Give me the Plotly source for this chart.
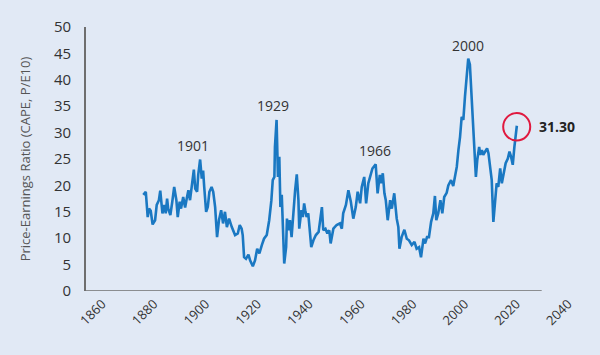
import plotly.graph_objects as go

# Shiller CAPE (P/E10)
years = [1881.0, 1881.9, 1882.6, 1883.1, 1883.7, 1884.4, 1885.3, 1885.9, 1886.7, 1887.2,
         1888.0, 1888.7, 1889.2, 1889.7, 1890.1, 1890.9, 1891.6, 1892.3, 1893.1, 1893.6,
         1894.3, 1894.8, 1895.6, 1896.3, 1896.9, 1897.5, 1898.1, 1898.7, 1899.5, 1900.0,
         1900.7, 1901.1, 1901.8, 1902.4, 1902.9, 1903.3, 1904.0, 1904.6, 1905.2, 1906.0,
         1906.6, 1907.3, 1908.0, 1908.7, 1909.5, 1910.2, 1910.9, 1911.6, 1912.4, 1913.4,
         1914.6, 1915.6, 1916.3, 1917.0, 1917.4, 1917.9, 1918.6, 1919.5, 1920.1, 1921.1,
         1921.9, 1922.7, 1923.5, 1924.4, 1925.2, 1926.2, 1927.1, 1927.9, 1928.4, 1929.0,
         1929.2, 1929.8, 1930.3, 1930.8, 1931.2, 1931.7, 1932.3, 1932.6, 1933.3, 1933.6,
         1934.2, 1934.7, 1935.3, 1935.9, 1936.6, 1937.2, 1937.8, 1938.1, 1938.9, 1939.4,
         1939.9, 1940.3, 1940.8, 1941.4, 1941.8, 1942.5, 1943.3, 1944.2, 1945.2, 1946.0,
         1946.4, 1946.9, 1947.7, 1948.4, 1949.1, 1949.6, 1950.6, 1951.8, 1953.0, 1953.7,
         1954.2, 1955.2, 1956.1, 1957.0, 1957.9, 1958.8, 1959.5, 1960.4, 1961.0, 1961.9,
         1962.6, 1963.4, 1964.1, 1964.9, 1966.1, 1966.8, 1967.6, 1968.1, 1968.7, 1969.3,
         1969.8, 1970.5, 1971.4, 1972.0, 1972.9, 1973.8, 1974.4, 1974.8, 1975.6, 1976.6,
         1977.5, 1978.3, 1979.3, 1980.3, 1981.1, 1982.0, 1982.7, 1983.6, 1984.2, 1984.9,
         1985.6, 1986.4, 1987.2, 1987.8, 1988.3, 1989.0, 1989.8, 1990.5, 1991.2, 1992.1,
         1992.7, 1993.7, 1994.5, 1995.2, 1995.8, 1996.4, 1997.0, 1997.6, 1998.2, 1998.8,
         1999.5, 2000.0, 2000.6, 2001.0, 2001.5, 2002.2, 2002.8, 2003.3, 2004.0, 2004.4,
         2005.0, 2005.5, 2006.2, 2006.9, 2007.4, 2008.0, 2008.6, 2009.2, 2009.8, 2010.4,
         2011.0, 2011.7, 2012.3, 2013.0, 2013.7, 2014.5, 2015.1, 2015.7, 2016.3, 2016.9,
         2017.8]
cape = [18.2, 18.8, 14.0, 15.6, 15.2, 12.6, 13.4, 16.3, 17.2, 19.0,
        14.7, 16.3, 14.7, 17.5, 15.6, 14.4, 16.9, 19.7, 17.2, 14.0,
        16.9, 15.6, 17.8, 15.8, 17.5, 19.1, 17.2, 20.1, 23.0, 19.4,
        18.8, 22.0, 24.9, 21.3, 22.8, 19.7, 15.0, 15.9, 18.8, 19.7,
        18.8, 15.9, 10.2, 13.4, 15.3, 12.8, 15.0, 12.1, 13.7, 12.1,
        10.6, 10.9, 12.5, 11.8, 10.6, 6.4, 6.1, 6.9, 5.8, 4.7,
        5.8, 8.0, 7.1, 8.7, 9.9, 10.6, 13.4, 17.2, 21.0, 21.6,
        27.3, 32.4, 21.6, 25.4, 15.9, 18.2, 8.3, 5.2, 8.3, 13.7,
        11.5, 13.4, 10.2, 14.7, 19.1, 22.1, 17.2, 11.8, 15.3, 14.0,
        16.6, 15.3, 14.0, 14.7, 12.5, 8.3, 9.6, 10.6, 11.2, 14.0,
        15.9, 11.5, 11.8, 10.9, 11.5, 9.0, 11.8, 12.5, 12.8, 11.8,
        14.7, 16.3, 19.1, 16.9, 13.7, 15.9, 18.8, 16.6, 19.7, 21.6,
        16.6, 20.4, 22.0, 23.2, 24.0, 18.5, 22.0, 20.4, 22.3, 18.5,
        17.2, 13.4, 17.2, 15.6, 18.5, 13.7, 12.1, 8.0, 10.2, 11.6,
        9.9, 9.6, 8.7, 9.3, 8.0, 8.3, 6.4, 9.9, 9.0, 10.2,
        10.2, 13.1, 14.7, 18.0, 13.4, 14.7, 17.2, 14.7, 17.8, 18.6,
        20.0, 21.0, 19.9, 22.3, 23.5, 26.7, 29.2, 33.0, 32.4, 36.8,
        40.6, 44.0, 42.9, 39.4, 33.0, 27.3, 21.6, 24.8, 27.3, 25.8,
        26.7, 25.8, 26.4, 27.0, 26.1, 22.9, 21.0, 13.1, 17.8, 20.4,
        19.7, 23.2, 20.4, 22.3, 24.2, 25.1, 26.4, 25.4, 23.9, 27.3,
        31.3]

tick_years = [1860, 1880, 1900, 1920, 1940, 1960, 1980, 2000, 2020, 2040]
y_ticks = [0, 5, 10, 15, 20, 25, 30, 35, 40, 45, 50]

peak_labels = ["1901", "1929", "1966", "2000"]
peak_x = [1899.3, 1928.6, 1965.9, 1999.8]
peak_y = [27.5, 35.1, 26.7, 46.5]

last_label = "31.30"

FONT = "Open Sans"
BG = "#e1e9f5"
LINE = "#1a78c2"
AXIS = "#6e6e6e"

fig = go.Figure()
fig.add_trace(go.Scatter(
    x=years, y=cape, mode="lines",
    line=dict(color=LINE, width=2.6),
    xaxis="x", yaxis="y", showlegend=False, hoverinfo="skip"))
# carrier trace for the labelled year axis
fig.add_trace(go.Scatter(
    x=tick_years, y=[None] * len(tick_years), mode="lines",
    xaxis="x2", yaxis="y", showlegend=False, hoverinfo="skip"))

for lab, xx, yy in zip(peak_labels, peak_x, peak_y):
    fig.add_annotation(x=xx, y=yy, text=lab, showarrow=False,
                       xref="x", yref="y",
                       font=dict(family=FONT, size=14, color="#333333"))

fig.add_annotation(x=years[-1] + 14.6, y=cape[-1] - 0.2, text="<b>" + last_label + "</b>",
                   showarrow=False, xref="x", yref="y",
                   font=dict(family=FONT, size=14, color="#222222"))

# red circle around the latest value
fig.add_shape(type="circle", xref="x", yref="y",
              x0=years[-1] - 5.0, x1=years[-1] + 4.9,
              y0=cape[-1] - 2.8, y1=cape[-1] + 2.4,
              line=dict(color="#e0193f", width=2))

# x axis baseline (stops short of the plot's right edge)
fig.add_shape(type="line", xref="x", yref="y",
              x0=1860, x1=2026.9, y0=0, y1=0,
              line=dict(color=AXIS, width=1.6))

fig.update_layout(
    width=600, height=355,
    margin=dict(l=86, r=25, t=27, b=64, autoexpand=False),
    paper_bgcolor=BG, plot_bgcolor=BG,
    font=dict(family=FONT, color="#333333"),
    xaxis=dict(range=[1860, 2039.1], showticklabels=False, showgrid=False,
               zeroline=False, showline=False, ticks="", automargin=False),
    xaxis2=dict(range=[1853.8, 2042.6], overlaying="x", anchor="y", side="bottom",
                tickvals=tick_years, ticktext=[str(t) for t in tick_years],
                tickangle=-45, showgrid=False, zeroline=False, showline=False,
                ticks="", ticklabelstandoff=2, automargin=False,
                tickfont=dict(family=FONT, size=13, color="#333333")),
    yaxis=dict(range=[0, 50], tickvals=y_ticks, showgrid=False, zeroline=False,
               showline=True, linecolor=AXIS, linewidth=1.6, ticks="",
               ticklabelstandoff=10, automargin=False,
               tickfont=dict(family=FONT, size=15, color="#333333"),
               title=dict(text="Price-Earnings Ratio (CAPE, P/E10)",
                          font=dict(family=FONT, size=13, color="#555555"),
                          standoff=20)),
)

fig.write_html(
    "out.html",
    config={"displayModeBar": False},
    post_script="document.body.style.margin='0px';"
                "document.body.style.background='" + BG + "';",
)
